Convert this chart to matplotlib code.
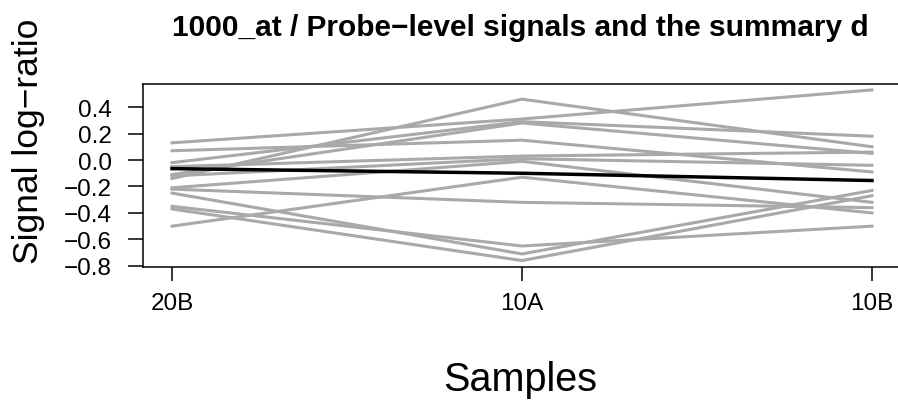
import numpy as np
import matplotlib.pyplot as plt

# Values (signal log-ratio per probe)
# ----------------------------------------------------------
samples = ['20B', '10A', '10B']
probe_20B = [0.13, -0.14, -0.02, -0.11, 0.07, -0.05, -0.12, -0.21, -0.50, -0.22, -0.35, -0.25, -0.37]
probe_10A = [0.31, 0.46, 0.29, 0.28, 0.15, 0.03, 0.01, -0.01, -0.13, -0.32, -0.65, -0.71, -0.76]
probe_10B = [0.53, 0.10, 0.18, 0.05, -0.09, 0.06, -0.04, -0.32, -0.40, -0.36, -0.50, -0.23, -0.27]
summary = [-0.065, -0.10, -0.155]
yTicks = [-0.8, -0.6, -0.4, -0.2, 0.0, 0.2, 0.4]

plt.rcParams['font.family'] = ['Liberation Sans', 'DejaVu Sans']

W, H = 898, 402
fig = plt.figure(figsize=(W/100, H/100), dpi=100)
# plot region in pixels: left 143, top 85, bottom 268, right runs off the edge
ax = fig.add_axes([143.3/W, 1 - 268.3/H, 757.4/W, 183.6/H])

x = np.arange(1, len(samples) + 1)

# Probe-level lines
# -----------------
for a, b, c in zip(probe_20B, probe_10A, probe_10B):
    ax.plot(x, [a, b, c], color='#a9a9a9', linewidth=2.2, zorder=2)

# Summary line
# ------------
ax.plot(x, summary, color='black', linewidth=2.5, zorder=3)

ax.set_xlim(0.918, 3.082)
ax.set_ylim(-0.811, 0.577)

ax.set_xticks(x)
ax.set_xticklabels(samples)
ax.set_yticks(yTicks)
ax.set_yticklabels([('%.1f' % v).replace('-', '\u2212') for v in yTicks])

for s in ax.spines.values():
    s.set_linewidth(1.1)
ax.spines['right'].set_visible(False)

ax.tick_params(axis='y', length=10.8, width=1.1, pad=12, labelsize=17.5)
ax.tick_params(axis='x', length=10, width=1.1, pad=8, labelsize=17.5)

ax.set_ylabel('Signal log\u2212ratio', fontsize=25.5)
ax.yaxis.set_label_coords((28 - 143.3)/757.4, 0.693)
ax.set_xlabel('Samples', fontsize=28.5)
ax.xaxis.set_label_coords((520 - 143.3)/757.4, -0.61)
ax.xaxis.label.set_verticalalignment('center')
ax.yaxis.label.set_verticalalignment('center')

fig.text(520/W, 1 - 28/H, '1000_at / Probe\u2212level signals and the summary d',
         ha='center', va='center', fontsize=21.5, fontweight='bold')

plt.savefig('out.png', dpi=100)
